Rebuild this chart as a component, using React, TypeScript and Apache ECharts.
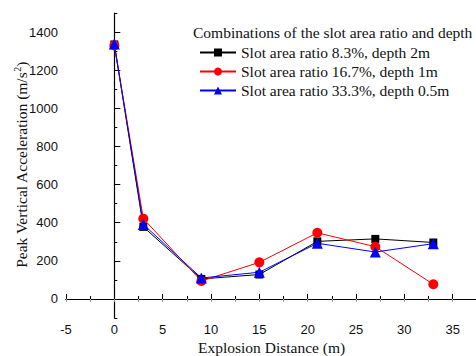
import React, { useEffect, useRef } from "react";
import * as echarts from "echarts";

const distances = [0, 3, 9, 15, 21, 27, 33];
const ratio83 = [1335, 378, 105, 128, 302, 315, 296];
const ratio167 = [1330, 421, 94, 192, 347, 274, 77];
const ratio333 = [1338, 391, 110, 140, 292, 246, 290];
const seriesNames = [
  "Slot area ratio 8.3%, depth 2m",
  "Slot area ratio 16.7%, depth 1m",
  "Slot area ratio 33.3%, depth 0.5m",
];
const yMajorTicks = [0, 200, 400, 600, 800, 1000, 1200, 1400];
const yMinorTicks = [-100, 100, 300, 500, 700, 900, 1100, 1300, 1500];

const serif = "'Times New Roman', 'Liberation Serif', serif";
const sans = "Arial, 'Liberation Sans', sans-serif";
const fs = 15.5;

export default function App() {
  const ref = useRef<HTMLDivElement>(null);
  useEffect(() => {
    if (!ref.current) return;
    const chart = echarts.init(ref.current, null, { renderer: "svg" });
    const pair = (vals: number[]) => distances.map((d, i) => [d, vals[i]]);
    const mk = (name: string, vals: number[], color: string, symbol: string, size: number) => ({
      name,
      type: "line",
      data: pair(vals),
      symbol,
      symbolSize: size,
      lineStyle: { color, width: 1 },
      itemStyle: { color },
      xAxisIndex: 0,
      yAxisIndex: 0,
    });
    chart.setOption({
      animation: false,
      backgroundColor: "#fff",
      textStyle: { fontFamily: serif },
      grid: { left: 66, top: 13, right: -25, bottom: 38, containLabel: false, outerBoundsMode: "none" },
      xAxis: [
        {
          type: "value",
          min: -5,
          max: 40,
          interval: 5,
          axisLine: { lineStyle: { color: "#000", width: 1.2 } },
          axisTick: { inside: true, length: 5, lineStyle: { color: "#000" } },
          minorTick: { show: true, splitNumber: 2, length: 3, lineStyle: { color: "#000" } },
          splitLine: { show: false },
          axisLabel: {
            color: "#111",
            fontFamily: sans,
            fontSize: 13,
            margin: 5,
            showMaxLabel: false,
          },
        },
        {
          type: "value",
          position: "top",
          min: -5,
          max: 40,
          interval: 2.5,
          axisLine: { show: true, lineStyle: { color: "#000", width: 1.2 } },
          axisTick: { inside: true, length: 3, lineStyle: { color: "#999" } },
          axisLabel: { show: false },
          splitLine: { show: false },
        },
      ],
      yAxis: [
        {
          type: "value",
          min: -100,
          max: 1500,
          interval: 100,
          axisLine: { show: true, lineStyle: { color: "#000", width: 1.2 } },
          axisTick: { inside: true, length: 6, customValues: yMajorTicks, lineStyle: { color: "#000" } },
          splitLine: { show: false },
          axisLabel: {
            color: "#111",
            fontFamily: sans,
            fontSize: 13,
            margin: 8,
            customValues: yMajorTicks,
            formatter: (v: number) => String(v),
          },
        },
        {
          type: "value",
          position: "left",
          min: -100,
          max: 1500,
          interval: 100,
          axisLine: { show: false },
          axisTick: { show: true, inside: true, length: 3, customValues: yMinorTicks, lineStyle: { color: "#000" } },
          axisLabel: { show: false },
          splitLine: { show: false },
        },
      ],
      legend: {
        orient: "vertical",
        left: 199,
        top: 44,
        padding: 0,
        itemWidth: 36,
        itemHeight: 10,
        itemGap: 2,
        textStyle: { fontFamily: serif, fontSize: fs, color: "#111", lineHeight: 17 },
        data: seriesNames,
      },
      graphic: [
        {
          type: "text",
          left: 193,
          top: 24,
          style: { text: "Combinations of the slot area ratio and depth", font: `${fs}px ${serif}`, fill: "#111" },
        },
        {
          type: "text",
          left: 198,
          top: 339,
          style: { text: "Explosion Distance (m)", font: `${fs}px ${serif}`, fill: "#111" },
        },
        {
          type: "text",
          x: 21,
          y: 165,
          rotation: Math.PI / 2,
          style: {
            text: "Peak Vertical Acceleration (m/s{sup|2})",
            font: `${fs}px ${serif}`,
            fill: "#111",
            align: "center",
            verticalAlign: "middle",
            rich: {
              sup: { font: `10px ${serif}`, fill: "#111", verticalAlign: "top", padding: [0, 0, 8, 0] },
            },
          },
        },
      ],
      series: [
        mk(seriesNames[0], ratio83, "#000000", "rect", 8),
        mk(seriesNames[1], ratio167, "#ff0000", "circle", 10),
        mk(seriesNames[2], ratio333, "#0000ff", "triangle", 11),
      ],
    });
    return () => chart.dispose();
  }, []);
  return (
    <div style={{ position: "fixed", left: 0, top: 0, width: 476, height: 356, overflow: "hidden", background: "#fff" }}>
      <div ref={ref} style={{ width: 476, height: 356 }} />
    </div>
  );
}
